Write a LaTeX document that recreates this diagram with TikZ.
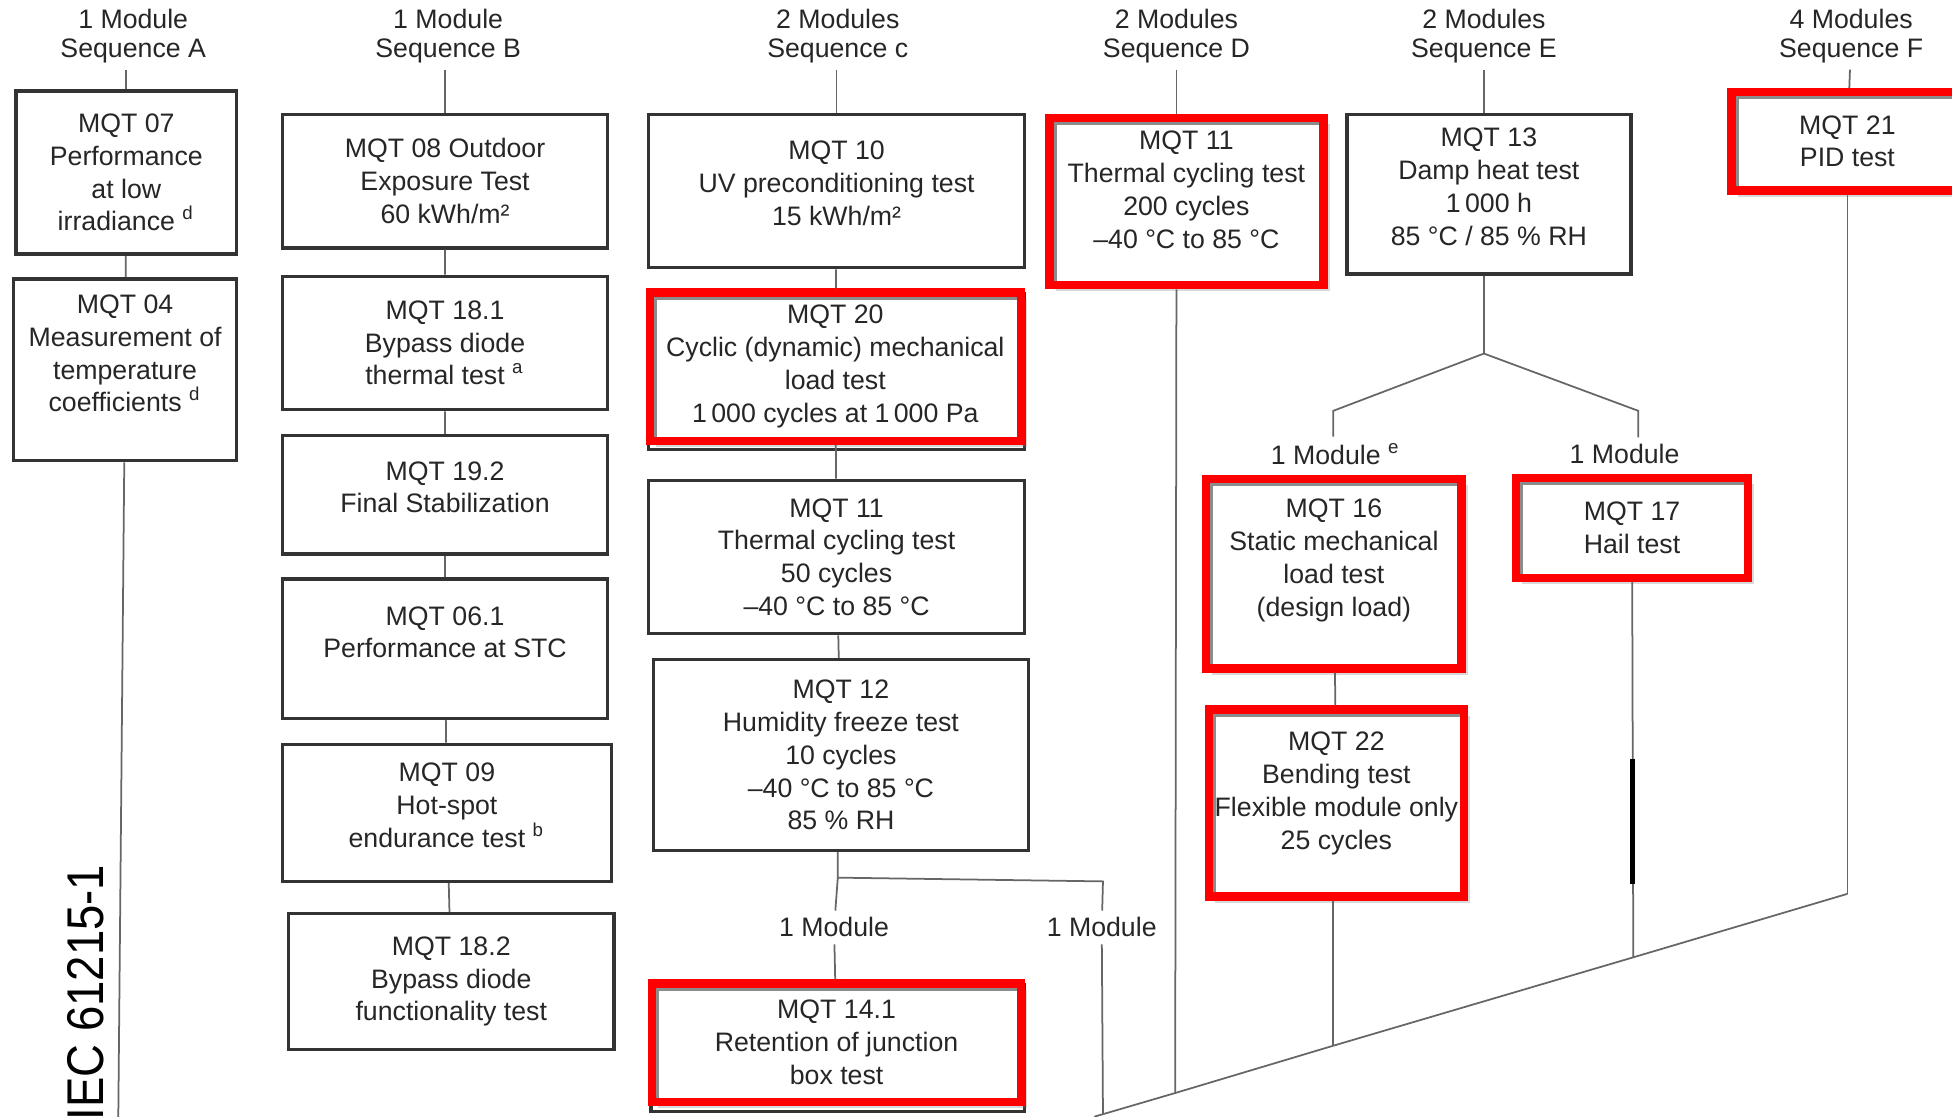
\documentclass[tikz,border=0pt]{standalone}
\usepackage{fontspec}
\setmainfont{Liberation Sans}
\usepackage{tikz}
\usetikzlibrary{positioning,calc,shadows}
\newcommand{\boxfont}{\fontsize{6.1}{7.5}\selectfont}
\newcommand{\headfont}{\fontsize{6.1}{6.4}\selectfont}
\tikzstyle{box}=[rectangle, draw=black!80, line width=0.8pt, fill=white, align=center, inner sep=0pt, font=\boxfont, text=black!85]
\tikzstyle{redbox}=[box, draw=red, line width=1.9pt, drop shadow={opacity=0.3, shadow xshift=0.05cm, shadow yshift=-0.05cm},
  path picture={\draw[black!45, line width=0.7pt]
    ([xshift=1.3pt]path picture bounding box.south west) -- ([xshift=1.3pt, yshift=-1.3pt]path picture bounding box.north west)
    -- ([yshift=-1.3pt]path picture bounding box.north east);}]
\tikzstyle{head}=[align=center, font=\headfont, inner sep=0.05cm, text=black!85]
\tikzstyle{link}=[draw=black!60, line width=0.4pt]

\begin{document}
\begin{tikzpicture}[x=0.01cm, y=-0.01cm]
\useasboundingbox (0,0) rectangle (1568,897);
% headers
\node[head] (sA) at (107,29) {1 Module\\Sequence A};
\node[head] (sB) at (360,29) {1 Module\\Sequence B};
\node[head] (sC) at (673,29) {2 Modules\\Sequence c};
\node[head] (sD) at (945,29) {2 Modules\\Sequence D};
\node[head] (sE) at (1192,29) {2 Modules\\Sequence E};
\node[head] (sF) at (1487,29) {4 Modules\\Sequence F};

% sequence A
\node[box, minimum width=1.77cm, minimum height=1.31cm] (m07) at (101.5,138.5) {MQT 07\\Performance\\at low\\irradiance \textsuperscript{d}};
\node[box, minimum width=1.79cm, minimum height=1.46cm] (m04) at (100.5,297) {MQT 04\\Measurement of\\temperature\\coefficients \textsuperscript{d}\\ \mbox{}};
\coordinate (aEnd) at (95,900);

% sequence B
\node[box, minimum width=2.61cm, minimum height=1.07cm] (m08) at (357.5,145.5) {MQT 08 Outdoor\\Exposure Test\\60 kWh/m²};
\node[box, minimum width=2.61cm, minimum height=1.07cm] (m181) at (357.5,275.5) {MQT 18.1\\Bypass diode\\thermal test \textsuperscript{a}};
\node[box, minimum width=2.61cm, minimum height=0.95cm] (m192) at (357.5,397.5) {MQT 19.2\\Final Stabilization\\[-4pt]\mbox{}};
\node[box, minimum width=2.61cm, minimum height=1.12cm] (m061) at (357.5,521) {MQT 06.1\\Performance at STC\\ \mbox{}};
\node[box, minimum width=2.64cm, minimum height=1.10cm] (m09) at (359,653) {MQT 09\\Hot-spot\\endurance test \textsuperscript{b}\\[-4pt]\mbox{}};
\node[box, minimum width=2.61cm, minimum height=1.09cm] (m182) at (362.5,788.5) {MQT 18.2\\Bypass diode\\functionality test};

% sequence C
\node[box, minimum width=3.02cm, minimum height=1.23cm] (m10) at (672,153.5) {MQT 10\\UV preconditioning test\\15 kWh/m²\\[-4pt]\mbox{}};
\draw[box] (521,236) rectangle (823,361);
\node[redbox, minimum width=2.98cm, minimum height=1.19cm] (m20) at (671,294.5) {MQT 20\\Cyclic (dynamic) mechanical\\load test\\1\,000 cycles at 1\,000 Pa};
\node[box, minimum width=3.02cm, minimum height=1.23cm] (m11c) at (672,447.5) {MQT 11\\Thermal cycling test\\50 cycles\\–40 °C to 85 °C};
\node[box, minimum width=3.01cm, minimum height=1.53cm] (m12) at (675.5,606.5) {MQT 12\\Humidity freeze test\\10 cycles\\–40 °C to 85 °C\\85 \% RH};
\node[head] (lc1) at (670,745) {1 Module};
\node[head] (lc2) at (885,745) {1 Module};
\draw[box] (523,791) rectangle (823,893);
\node[redbox, minimum width=2.96cm, minimum height=0.95cm] (m141) at (672,837.5) {MQT 14.1\\Retention of junction\\box test};
\coordinate (cSplit) at (673,705);
\coordinate (cTurn) at (886,708);

% sequence D
\node[redbox, minimum width=2.20cm, minimum height=1.34cm] (m11d) at (953,162) {MQT 11\\Thermal cycling test\\200 cycles\\–40 °C to 85 °C\\[-2pt]\mbox{}};

% sequence E
\node[box, minimum width=2.28cm, minimum height=1.28cm] (m13) at (1196,156) {MQT 13\\Damp heat test\\1\,000 h\\85 °C / 85 \% RH\\[-4pt]\mbox{}};
\coordinate (eSplit) at (1192,284);
\coordinate (eL) at (1071,330);
\coordinate (eR) at (1316,330);
\node[head] (le1) at (1073,365) {1 Module \textsuperscript{e}};
\node[head] (le2) at (1305,365) {1 Module};
\node[redbox, minimum width=2.05cm, minimum height=1.52cm] (m16) at (1071.5,461) {MQT 16\\Static mechanical\\load test\\(design load)\\ \mbox{}};
\node[redbox, minimum width=2.05cm, minimum height=1.50cm] (m22) at (1073.5,645) {MQT 22\\Bending test\\Flexible module only\\25 cycles\\[-2pt]\mbox{}};
\node[redbox, minimum width=1.86cm, minimum height=0.80cm] (m17) at (1311,424) {MQT 17\\Hail test};

% sequence F
\node[redbox, minimum width=1.86cm, minimum height=0.79cm] (m21) at (1484,113.5) {MQT 21\\PID test};

% bottom line
\coordinate (fEnd) at (1484,718);
\coordinate (j17) at (1312,769);
\coordinate (j22) at (1071,840);
\coordinate (jD) at (944,878);
\coordinate (jC) at (886,895);
\coordinate (dEnd) at (879,897);

% connectors
\draw[link] (sA.south -| m07) -- (m07);
\draw[link] (m07) -- (m04);
\draw[link] (m04) -- (aEnd);
\draw[link] (sB.south -| m08) -- (m08);
\draw[link] (m08) -- (m181) -- (m192) -- (m061) -- (m09) -- (m182);
\draw[link] (sC.south -| m10) -- (m10);
\draw[link] (m10) -- (m20) -- (m11c) -- (m12);
\draw[link] (m12.south -| cSplit) -- (cSplit) -- (lc1);
\draw[link] (lc1) -- (m141);
\draw[link] (cSplit) -- (cTurn) -- (lc2);
\draw[link] (lc2) -- (jC);
\draw[link] (sD) -- (sD |- m11d.north);
\draw[link] (sD |- m11d.south) -- (jD);
\draw[link] (sE) -- (sE |- m13.north);
\draw[link] (m13.south -| eSplit) -- (eSplit);
\draw[link] (eSplit) -- (eL) -- (eL |- le1.north);
\draw[link] (eSplit) -- (eR) -- (eR |- le2.north);
\draw[link] (m16) -- (m22);
\draw[link] (m22.south -| j22) -- (j22);
\draw[link] (m17) -- (j17);
\draw[line width=1.1pt] (1311.5,610) -- (1311.5,710);
\draw[link] (sF) -- (m21);
\draw[link] (m21) -- (fEnd);
\draw[link] (fEnd) -- (j17) -- (j22) -- (jD) -- (jC) -- (dEnd);

% standard number
\node[rotate=90, anchor=base east, inner sep=0pt, font=\fontsize{11.8}{11.8}\selectfont] (iec) at (83,694) {\scalebox{0.88}[1]{IEC 61215-1}};
\end{tikzpicture}
\end{document}
